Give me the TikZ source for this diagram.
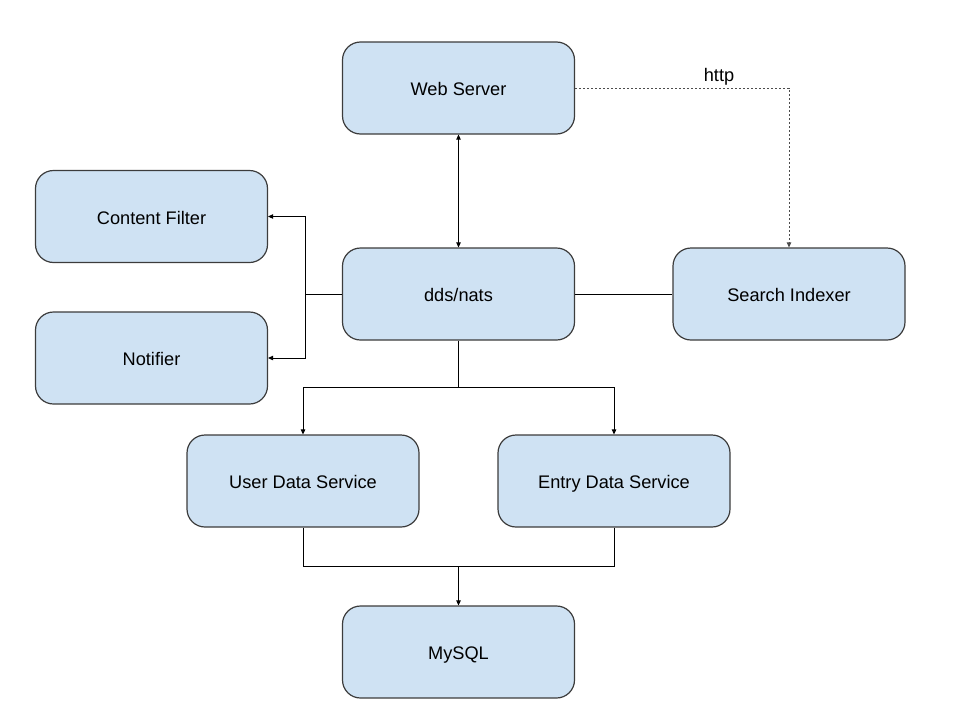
\documentclass[tikz,border=0pt]{standalone}
\usepackage{fontspec}
\setmainfont{Liberation Sans}
\usetikzlibrary{arrows.meta}
\definecolor{boxfill}{HTML}{CFE2F3}
\definecolor{boxline}{HTML}{3C3C3C}
\begin{document}
\begin{tikzpicture}[x=1pt,y=-1pt,
  box/.style={draw=boxline, fill=boxfill, line width=1.2pt, rounded corners=18pt,
    minimum width=232pt, minimum height=92pt, inner sep=0pt,
    text height=15pt, text depth=0pt, font=\fontsize{18.2}{21}\selectfont},
  conn/.style={draw=black, line width=1pt},
  tip/.style={-{Triangle[length=5pt,width=4.5pt]}},
]
\useasboundingbox (0,0) rectangle (960,720);
\node[box] (web) at (458.5,88) {Web Server};
\node[box] (cf) at (151.5,216.5) {Content Filter};
\node[box] (notif) at (151.5,358) {Notifier};
\node[box] (dds) at (458.5,294) {dds/nats};
\node[box] (search) at (789,294) {Search Indexer};
\node[box] (user) at (303,481) {User Data Service};
\node[box] (entry) at (614,481) {Entry Data Service};
\node[box] (mysql) at (458.5,652) {MySQL};

\coordinate (lj) at (305,294);
\coordinate (bj) at (458.5,387);
\coordinate (mj) at (458.5,566);

\draw[conn,{Triangle[length=5pt,width=4.5pt]}-{Triangle[length=5pt,width=4.5pt]}] (web.south) -- (dds.north);
\draw[conn] (dds.west) -- (lj);
\draw[conn,tip] (lj) |- (cf.east);
\draw[conn,tip] (lj) |- (notif.east);
\draw[conn] (dds.east) -- (search.west);
\draw[draw=black!70, line width=0.8pt, dash pattern=on 2pt off 2pt,
  -{Triangle[length=5pt,width=4.5pt]}] (web.east) -| (search.north);
\node[font=\fontsize{18.2}{21}\selectfont, text height=15pt, text depth=0pt, inner sep=0pt] (http) at (719,74) {http};
\draw[conn] (dds.south) -- (bj);
\draw[conn,tip] (bj) -| (user.north);
\draw[conn,tip] (bj) -| (entry.north);
\draw[conn] (user.south) |- (mj);
\draw[conn] (entry.south) |- (mj);
\draw[conn,tip] (mj) -- (mysql.north);
\end{tikzpicture}
\end{document}
